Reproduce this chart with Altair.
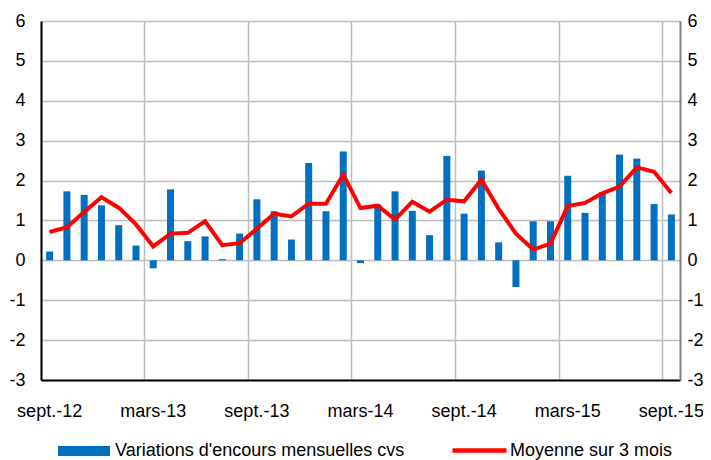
import altair as alt
import pandas as pd

months = ["sept.-12", "oct.-12", "nov.-12", "déc.-12", "janv.-13", "févr.-13", "mars-13",
          "avr.-13", "mai-13", "juin-13", "juil.-13", "août-13", "sept.-13", "oct.-13",
          "nov.-13", "déc.-13", "janv.-14", "févr.-14", "mars-14", "avr.-14", "mai-14",
          "juin-14", "juil.-14", "août-14", "sept.-14", "oct.-14", "nov.-14", "déc.-14",
          "janv.-15", "févr.-15", "mars-15", "avr.-15", "mai-15", "juin-15", "juil.-15",
          "août-15", "sept.-15"]

monthly = [0.22, 1.73, 1.64, 1.38, 0.88, 0.37, -0.20, 1.78, 0.48, 0.60, 0.03, 0.67, 1.53,
           1.23, 0.52, 2.44, 1.23, 2.73, -0.07, 1.40, 1.73, 1.24, 0.63, 2.62,
           1.17, 2.25, 0.45, -0.67, 0.98, 0.98, 2.12, 1.19, 1.71, 2.65, 2.55, 1.41, 1.15]

avg3 = [0.71, 0.83, 1.21, 1.58, 1.32, 0.90, 0.35, 0.67, 0.69, 0.98, 0.38, 0.43, 0.79,
        1.17, 1.10, 1.42, 1.42, 2.15, 1.31, 1.37, 1.02, 1.47, 1.22, 1.52,
        1.48, 2.02, 1.29, 0.67, 0.27, 0.42, 1.36, 1.44, 1.68, 1.85, 2.33, 2.22, 1.69]

tick_months = ["sept.-12", "mars-13", "sept.-13", "mars-14", "sept.-14", "mars-15", "sept.-15"]
y_ticks = [-3, -2, -1, 0, 1, 2, 3, 4, 5, 6]

bar_name = "Variations d'encours mensuelles cvs"
line_name = "Moyenne sur 3 mois"

df = pd.DataFrame({"month": months, "monthly": monthly, "avg3": avg3,
                   "s1": bar_name, "s2": line_name})

FONT = "Liberation Sans"
FS = 18
GRID = "#bdbdbd"
HYPHEN = "replace(datum.label, '\u2212', '-')"

xscale = alt.Scale(paddingInner=0, paddingOuter=0)

# bottom axis: labels centred on the month
x_bottom = alt.X("month:O", sort=months, scale=xscale,
                 axis=alt.Axis(title=None, values=tick_months, ticks=False, grid=False,
                               domainColor="black", domainWidth=2, labelFontSize=FS,
                               labelFont=FONT, labelColor="black", labelPadding=22,
                               labelAngle=0))
# top axis: only the vertical grid lines, at the start of the month
x_top = alt.X("month:O", sort=months, scale=xscale,
              axis=alt.Axis(title=None, orient="top", values=tick_months, ticks=False,
                            labels=False, domain=False, grid=True, bandPosition=0,
                            gridColor=GRID, gridWidth=1.5))

yscale = alt.Scale(domain=[-3, 6], nice=False)

bars = alt.Chart(df).mark_bar(size=7).encode(
    x=x_bottom,
    y=alt.Y("monthly:Q", scale=yscale,
            axis=alt.Axis(title=None, values=y_ticks, ticks=False, grid=True,
                          gridColor=GRID, gridWidth=1.5, domainColor="black",
                          domainWidth=2, labelFontSize=FS, labelFont=FONT,
                          labelColor="black", labelPadding=16, labelExpr=HYPHEN)),
    fill=alt.Fill("s1:N", scale=alt.Scale(range=["#0070C0"]),
                  legend=alt.Legend(orient="none", legendX=17, legendY=404, title=None,
                                    padding=0, symbolType="M-1,-0.19H1V0.19H-1Z",
                                    symbolSize=2704, symbolStrokeWidth=0,
                                    labelFontSize=FS, labelFont=FONT, labelColor="black",
                                    labelOffset=5, labelLimit=500)),
)

line = alt.Chart(df).mark_line(strokeWidth=4).encode(
    x=x_top,
    y=alt.Y("avg3:Q", scale=yscale,
            axis=alt.Axis(title=None, orient="right", values=y_ticks, ticks=False,
                          grid=False, domainColor="#808080", domainWidth=2,
                          labelFontSize=FS, labelFont=FONT, labelColor="black",
                          labelPadding=7, labelExpr=HYPHEN)),
    stroke=alt.Stroke("s2:N", scale=alt.Scale(range=["#FF0000"]),
                      legend=alt.Legend(orient="none", legendX=409, legendY=400, title=None,
                                        padding=0, symbolType="stroke", symbolSize=2916,
                                        symbolStrokeWidth=4.5, symbolStrokeColor="#FF0000",
                                        labelFontSize=FS, labelFont=FONT,
                                        labelColor="black", labelOffset=1, labelLimit=500)),
)

chart = alt.layer(bars, line).resolve_axis(x="independent", y="independent").resolve_legend(
    fill="independent", stroke="independent"
).properties(
    width=639, height=359,
    autosize=alt.AutoSizeParams(type="none"),
    padding={"left": 33, "top": 13, "right": 23, "bottom": 80},
).configure_view(stroke="black", strokeWidth=1.5).configure(background="white")

chart.save("out.html", embed_options={"renderer": "svg", "actions": False})
